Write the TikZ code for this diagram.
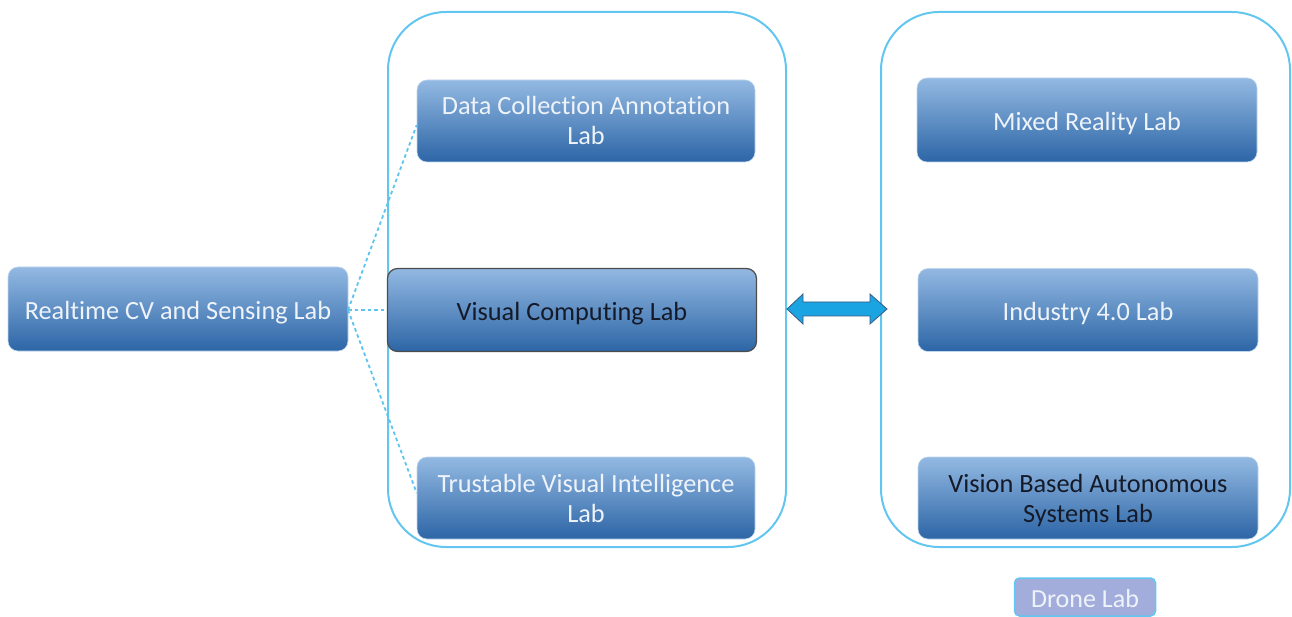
\documentclass[tikz,border=0pt]{standalone}
\usepackage{fontspec}
\setmainfont{Carlito}[Ligatures=NoCommon]
\usetikzlibrary{calc}
\definecolor{boxtop}{HTML}{93B9E2}
\definecolor{boxbot}{HTML}{2C65A6}
\definecolor{frame}{HTML}{62C6F0}
\definecolor{lighttext}{HTML}{EEF3FA}
\definecolor{darktext}{HTML}{151A28}
\definecolor{arrowfill}{HTML}{1BA4E2}
\definecolor{arrowline}{HTML}{3A5A80}
\definecolor{dronefill}{HTML}{A3ADDC}
\definecolor{dotline}{HTML}{5CC4EE}
\tikzset{
  labbox/.style={rectangle, rounded corners=10pt, top color=boxtop, bottom color=boxbot,
    draw=boxtop!60!white, line width=0.6pt, text=lighttext, align=center,
    font=\fontsize{26.3}{30}\selectfont, inner sep=0pt, text height=21pt, text depth=0pt},
  twoline/.style={text height=48pt, text depth=0pt},
  keybox/.style={labbox, draw=black!70, line width=1.2pt, text=darktext},
  darkbox/.style={labbox, text=darktext},
  group/.style={draw=frame, line width=2pt, rounded corners=58pt},
  link/.style={draw=dotline, line width=1.8pt, dash pattern=on 3.5pt off 3pt},
  twoway/.style={fill=arrowfill, draw=arrowline, line width=0.8pt, line join=miter},
}
\begin{document}
\begin{tikzpicture}[x=1pt,y=-1pt]
\useasboundingbox (0,0) rectangle (1292,617);
% group frames
\draw[group] (388,12) rectangle (786,547);
\draw[group] (881,12) rectangle (1290,547);
% labs
\node[labbox, minimum width=340pt, minimum height=84pt] (rt) at (178,309) {Realtime CV and Sensing Lab};
\node[labbox, twoline, minimum width=338pt, minimum height=82pt] (dc) at (586,121) {Data Collection Annotation\\Lab};
\node[keybox, minimum width=369pt, minimum height=83pt] (vc) at (572,310) {Visual Computing Lab};
\node[labbox, twoline, minimum width=338pt, minimum height=82pt] (tv) at (586,498) {Trustable Visual Intelligence\\Lab};
\node[labbox, minimum width=340pt, minimum height=84pt] (mr) at (1087,120) {Mixed Reality Lab};
\node[labbox, minimum width=340pt, minimum height=83pt] (in) at (1088,310) {Industry 4.0 Lab};
\node[darkbox, twoline, minimum width=340pt, minimum height=82pt] (vb) at (1088,498) {Vision Based Autonomous\\Systems Lab};
\node[rectangle, rounded corners=5pt, fill=dronefill, draw=frame, line width=1.5pt,
  text=lighttext, font=\fontsize{26}{30}\selectfont, minimum width=141pt, minimum height=38pt,
  inner sep=0pt, text height=20pt, text depth=0pt] (dr) at (1085,597) {Drone Lab};
% dotted links
\coordinate (hub) at (348,310);
\draw[link] (hub) -- (dc.west |- 0,125);
\draw[link] (hub) -- (vc.west);
\draw[link] (hub) -- (tv.west |- 0,493);
% double arrow between the groups
\coordinate (al) at (787,309);
\coordinate (ar) at (887,309);
\draw[twoway] (al) -- ++(16,-15) -- ++(0,8) -- ($(ar)+(-17,-7)$) -- ++(0,-8) -- (ar)
  -- ++(-17,15) -- ++(0,-8) -- ($(al)+(16,7)$) -- ++(0,8) -- cycle;
\end{tikzpicture}
\end{document}
